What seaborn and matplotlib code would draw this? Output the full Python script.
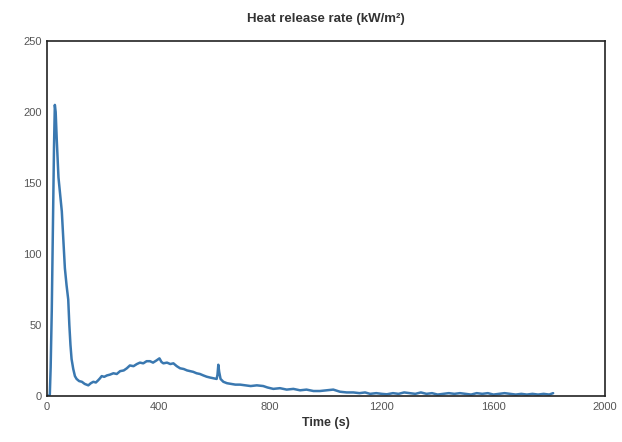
import matplotlib
matplotlib.use("Agg")
import matplotlib.pyplot as plt
import seaborn as sns
import pandas as pd

time_s = [0, 5, 10, 13, 17, 21, 25, 28, 31, 35, 41, 47, 53, 58, 64, 70, 76, 80, 84, 88,
          94, 100, 106, 115, 125, 135, 148, 157, 166, 175, 183, 190, 196, 205, 215, 225,
          238, 250, 262, 275, 286, 297, 310, 322, 333, 345, 357, 369, 380, 392, 403, 410,
          417, 430, 442, 453, 465, 477, 490, 502, 513, 524, 536, 548, 560, 572, 584, 596,
          608, 611, 614, 617, 622, 632, 645, 660, 675, 692, 710, 730, 752, 775, 790, 811,
          835, 859, 883, 907, 930, 955, 978, 1002, 1026, 1050, 1074, 1098, 1120, 1140,
          1158, 1180, 1200, 1218, 1240, 1260, 1280, 1300, 1320, 1340, 1360, 1380, 1400,
          1420, 1440, 1460, 1480, 1500, 1520, 1540, 1560, 1580, 1600, 1620, 1640, 1660,
          1680, 1700, 1720, 1740, 1760, 1780, 1800, 1814]
hrr = [0, 0, 1, 20, 60, 120, 175, 205, 200, 180, 154, 142, 130, 112, 90, 78, 68, 50, 36, 26,
       19, 14, 12, 10.5, 10, 8.5, 7.5, 9, 10, 9.5, 11, 12.5, 14, 13.5, 14.5, 15,
       16, 15.5, 17.5, 18, 19.5, 21.5, 21, 22.5, 23.5, 23, 24.5, 24.5, 23.5, 25, 26.5, 24,
       23, 23.5, 22.5, 23, 21, 19.5, 19, 18, 17.5, 17, 16, 15.5, 14.5, 13.6, 13, 12.5,
       12, 15, 22, 17, 12, 10, 9, 8.5, 8, 8, 7.5, 7, 7.5, 7, 6, 5,
       5.5, 4.5, 5, 4, 4.5, 3.5, 3.5, 4, 4.5, 3, 2.5, 2.5, 2, 2.5,
       1.5, 2, 1.5, 1.2, 2, 1.5, 2.5, 2, 1.5, 2.5, 1.5, 2, 1,
       1.5, 2, 1.5, 2, 1.5, 1, 2, 1.5, 2, 1, 1.5, 2, 1.5,
       1, 1.5, 1, 1.5, 1, 1.5, 1, 2]

x_ticks = [0, 400, 800, 1200, 1600, 2000]
y_ticks = [0, 50, 100, 150, 200, 250]

sns.set_theme(style="white")
plt.rcParams['font.family'] = ['Liberation Sans', 'DejaVu Sans']

df = pd.DataFrame({"Time (s)": time_s, "HRR": hrr})

fig = plt.figure(figsize=(6.22, 4.42), dpi=100)
ax = fig.add_axes([0.0756, 0.1041, 0.8971, 0.8031])
sns.lineplot(data=df, x="Time (s)", y="HRR", ax=ax, color="#3a78b0", linewidth=1.8)

ax.set_xlim(0, 2000)
ax.set_ylim(0, 250)
ax.set_xticks(x_ticks)
ax.set_yticks(y_ticks)
ax.tick_params(axis="both", length=0, labelsize=8, labelcolor="#555555", pad=4)
ax.set_ylabel("")
ax.set_xlabel("Time (s)", fontsize=9, fontweight="bold", color="#333333", labelpad=4)
ax.set_title("Heat release rate (kW/m\u00b2)", fontsize=9.5, fontweight="bold",
             color="#333333", pad=14)
for s in ax.spines.values():
    s.set_visible(True)
    s.set_color("#222222")
    s.set_linewidth(1.2)

fig.savefig("out.png", dpi=100)
